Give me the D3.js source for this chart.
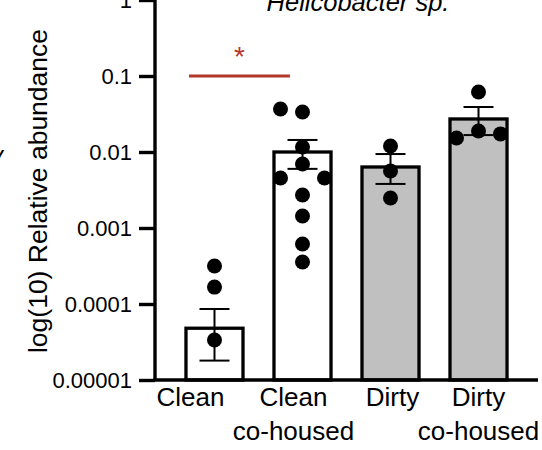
<!DOCTYPE html>
<html>
<head>
<meta charset="utf-8">
<script src="https://cdn.jsdelivr.net/npm/d3@7"></script>
<style>
  body { margin: 0; background: #fff; }
  svg { display: block; font-family: "Liberation Sans", Arial, sans-serif; }
</style>
</head>
<body>
<svg id="chart" width="542" height="450"></svg>
<script>
// data
const categories = ["Clean", "Clean co-housed", "Dirty", "Dirty co-housed"];
const labelLines = [["Clean"], ["Clean", "co-housed"], ["Dirty"], ["Dirty", "co-housed"]];
const meanValues = [0.000048, 0.0100, 0.00635, 0.0272];
const semUpper = [0.000086, 0.0144, 0.0094, 0.0391];
const semLower = [0.000018, 0.0060, 0.0038, 0.0167];
const cleanPoints = [0.000316, 0.000167, 0.0000336];
const cleanCoPoints = [0.0368, 0.0336, 0.01164, 0.00695, 0.00455, 0.00455, 0.00272, 0.00144, 0.000615, 0.000357];
const dirtyPoints = [0.0120, 0.00562, 0.00248];
const dirtyCoPoints = [0.0616, 0.0189, 0.0153, 0.0173];
const yTickValues = [0.00001, 0.0001, 0.001, 0.01, 0.1, 1];
const yTickLabels = ["0.00001", "0.0001", "0.001", "0.01", "0.1", "1"];
const compare = ["Clean", "Clean co-housed"];

// layout bits
const dotSlots = [[0, 0, 0], [-1, 0, 0, 0, -1, 1, 0, 0, 0, 0], [0, 0, 0], [0, 0, -1, 1]];
const labelDx = [-24, -9, 2, 0];
const barFill = ["#ffffff", "#ffffff", "#c0c0c0", "#c0c0c0"];
const red = "#b5372a";

const margin = { top: 0, right: 4, bottom: 70, left: 155 };
const width = 542 - margin.left - margin.right;
const height = 450 - margin.top - margin.bottom;

const svg = d3.select("#chart");
const g = svg.append("g").attr("transform", `translate(${margin.left},${margin.top})`);

const x = d3.scaleBand().domain(categories).range([0, width])
    .paddingInner(0.352).paddingOuter(0.352);
const y = d3.scaleLog().domain([0.00001, 1]).range([height, 0]);

const groups = categories.map((c, i) => ({
    cat: c,
    mean: meanValues[i],
    hi: semUpper[i],
    lo: semLower[i],
    pts: [cleanPoints, cleanCoPoints, dirtyPoints, dirtyCoPoints][i],
    fill: barFill[i],
    slots: dotSlots[i]
}));

// bars
g.selectAll(".bar").data(groups).enter().append("rect")
    .attr("class", "bar")
    .attr("x", d => x(d.cat))
    .attr("y", d => y(d.mean))
    .attr("width", x.bandwidth())
    .attr("height", d => y(0.00001) - y(d.mean))
    .attr("fill", d => d.fill)
    .attr("stroke", "#000")
    .attr("stroke-width", 3.3);

// error bars
const err = g.selectAll(".err").data(groups).enter().append("g")
    .attr("class", "err")
    .attr("transform", d => `translate(${x(d.cat) + x.bandwidth() / 2},0)`)
    .attr("stroke", "#000")
    .attr("stroke-width", 2);
err.append("line").attr("y1", d => y(d.hi)).attr("y2", d => y(d.lo));
err.append("line").attr("x1", -15).attr("x2", 15).attr("y1", d => y(d.hi)).attr("y2", d => y(d.hi));
err.append("line").attr("x1", -15).attr("x2", 15).attr("y1", d => y(d.lo)).attr("y2", d => y(d.lo));

// dots
groups.forEach(d => {
    const cx = x(d.cat) + x.bandwidth() / 2;
    g.append("g").selectAll("circle").data(d.pts).enter().append("circle")
        .attr("cx", (v, j) => cx + d.slots[j] * 22)
        .attr("cy", v => y(v))
        .attr("r", 7.5)
        .attr("fill", "#000");
});

// axes
const yAxis = g.append("g")
    .call(d3.axisLeft(y).tickValues(yTickValues).tickFormat((d, i) => yTickLabels[i]).tickSize(16).tickSizeOuter(0).tickPadding(7));
yAxis.select(".domain").attr("stroke-width", 3.4).attr("d", `M0,${height}V-10`);
yAxis.selectAll(".tick line").attr("stroke-width", 3.4);
yAxis.selectAll(".tick text").attr("font-size", 22).attr("fill", "#000");

g.append("line")
    .attr("x1", -1.7).attr("x2", width)
    .attr("y1", height).attr("y2", height)
    .attr("stroke", "#000").attr("stroke-width", 3.4);

// x labels
const xl = g.selectAll(".xlab").data(categories).enter().append("text")
    .attr("class", "xlab")
    .attr("text-anchor", "middle")
    .attr("font-size", 26)
    .attr("fill", "#000");
xl.selectAll("tspan").data((c, i) => labelLines[i].map(t => ({ t, i }))).enter().append("tspan")
    .attr("x", d => x(categories[d.i]) + x.bandwidth() / 2 + labelDx[d.i])
    .attr("y", (d, k) => height + 26 + k * 34)
    .text(d => d.t);

// y title
svg.append("text")
    .attr("transform", "translate(47,191) rotate(-90)")
    .attr("text-anchor", "middle")
    .attr("font-size", 26.5)
    .attr("fill", "#000")
    .text("log(10) Relative abundance");

// title, cut by top edge
svg.append("text")
    .attr("x", 358).attr("y", 11)
    .attr("text-anchor", "middle")
    .attr("font-size", 25.5)
    .attr("font-style", "italic")
    .attr("fill", "#000")
    .text("Helicobacter sp.");

// stray fragment of neighbouring panel
svg.append("text")
    .attr("x", -9).attr("y", 163)
    .attr("font-size", 24)
    .attr("font-style", "italic")
    .attr("fill", "#000")
    .text("y");

// significance
const x0 = x(compare[0]) + 3;
const x1 = x(compare[1]) + x.bandwidth() * 0.28;
g.append("line")
    .attr("x1", x0).attr("x2", x1)
    .attr("y1", y(0.1)).attr("y2", y(0.1))
    .attr("stroke", red).attr("stroke-width", 3);
g.append("text")
    .attr("x", (x0 + x1) / 2).attr("y", y(0.1) - 10)
    .attr("text-anchor", "middle")
    .attr("font-size", 28)
    .attr("fill", red)
    .text("*");
</script>
</body>
</html>
